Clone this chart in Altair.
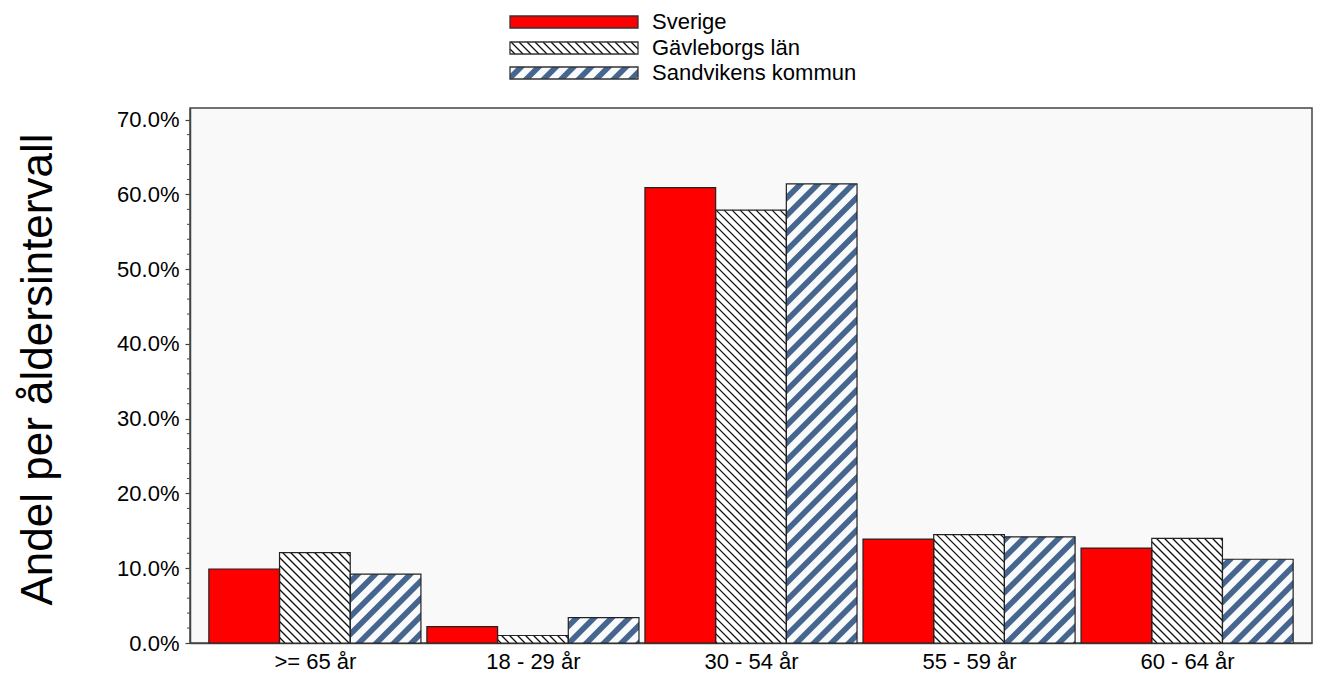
import json
import math
import altair as alt
import pandas as pd

# ---------------- data ----------------
CATEGORIES = [">= 65 år", "18 - 29 år", "30 - 54 år", "55 - 59 år", "60 - 64 år"]
SERIES = ["Sverige", "Gävleborgs län", "Sandvikens kommun"]
SVERIGE = [9.9, 2.2, 60.9, 13.9, 12.7]
GAVLEBORG = [12.1, 1.0, 57.9, 14.5, 14.0]
SANDVIKEN = [9.2, 3.4, 61.4, 14.2, 11.2]
Y_TICKS = [0, 10, 20, 30, 40, 50, 60, 70]
Y_MINOR = [v for v in range(2, 71, 2) if v % 10 != 0]
Y_TITLE = "Andel per åldersintervall"

VALUES = [SVERIGE, GAVLEBORG, SANDVIKEN]

# ---------------- layout / style ----------------
FONT = "Liberation Sans"
PLOT_W = 1122
PLOT_H = 535
Y_MAX = 0.7156
BAR_W = 0.3242            # bar width in units of group pitch
X_MIN = -0.0864
X_MAX = 5.0591
AXIS_COL = "#444444"
FILLS = ["#ff0000", "#ffffff", "#f9fafc"]
HATCH_COL = "#111111"
STRIPE_COL = "#46668f"
HATCH_PERIOD = 8.0
STRIPE_PERIOD = 17.5
STRIPE_W = 8.0

SX = PLOT_W / (X_MAX - X_MIN)


def to_px(xd):
    return (xd - X_MIN) * SX


def to_xd(px):
    return X_MIN + px / SX


def to_py(yd):
    return PLOT_H - yd / Y_MAX * PLOT_H


def to_yd(py):
    return (PLOT_H - py) / PLOT_H * Y_MAX


def hatch_lines(X0, X1, Yt, Yb, period):
    """'\\' direction lines y = x + c clipped to rect (screen px)."""
    out = []
    kmin = math.floor((Yt - X1) / period) - 1
    kmax = math.ceil((Yb - X0) / period) + 1
    for k in range(kmin, kmax + 1):
        c = k * period
        xa = max(X0, Yt - c)
        xb = min(X1, Yb - c)
        if xb - xa > 0.3:
            out.append((xa, xa + c, xb, xb + c))
    return out


def stripes(X0, X1, Yt, Yb, period, w):
    """'/' direction bands c <= x + y <= c + w clipped to rect (screen px)."""
    polys = []
    kmin = math.floor((X0 + Yt - w) / period) - 1
    kmax = math.ceil((X1 + Yb) / period) + 1
    for k in range(kmin, kmax + 1):
        c = k * period
        xa = max(X0, c - Yb)
        xb = min(X1, c + w - Yt)
        if xb - xa <= 0.3:
            continue
        xs = {xa, xb}
        for b in (c - Yt, c - Yb, c + w - Yt, c + w - Yb):
            if xa < b < xb:
                xs.add(b)
        pts = []
        for x in sorted(xs):
            lo = min(max(c - x, Yt), Yb)
            hi = min(max(c + w - x, Yt), Yb)
            pts.append((x, lo, hi))
        polys.append(pts)
    return polys


# ---------------- main chart data ----------------
bar_rows = []
line_rows = []
stripe_rows = []
sid = 0
for g, cat in enumerate(CATEGORIES):
    for k, ser in enumerate(SERIES):
        x0 = g + k * BAR_W
        x1 = x0 + BAR_W
        v = VALUES[k][g] / 100.0
        bar_rows.append({"cat": cat, "series": ser, "x0": x0, "x1": x1, "v": v})
        X0, X1 = to_px(x0), to_px(x1)
        Yt, Yb = to_py(v), PLOT_H
        if k == 1:
            for (ax, ay, bx, by) in hatch_lines(X0, X1, Yt, Yb, HATCH_PERIOD):
                line_rows.append({"x": to_xd(ax), "y": to_yd(ay),
                                  "x2": to_xd(bx), "y2": to_yd(by)})
        if k == 2:
            for pts in stripes(X0, X1, Yt, Yb, STRIPE_PERIOD, STRIPE_W):
                for (px, lo, hi) in pts:
                    stripe_rows.append({"sid": sid, "x": to_xd(px),
                                        "ylo": to_yd(lo), "yhi": to_yd(hi)})
                sid += 1

bars_df = pd.DataFrame(bar_rows)
lines_df = pd.DataFrame(line_rows)
stripes_df = pd.DataFrame(stripe_rows)
minor_df = pd.DataFrame({"t": [m / 100.0 for m in Y_MINOR]})

CENTER_OFF = 1.5 * BAR_W
x_scale = alt.Scale(domain=[X_MIN, X_MAX], nice=False, zero=False)
y_scale = alt.Scale(domain=[0, Y_MAX], nice=False, zero=True)
label_expr = f"{json.dumps(CATEGORIES, ensure_ascii=False)}[round(datum.value - {CENTER_OFF})]"
x_axis = alt.Axis(values=[g + CENTER_OFF for g in range(len(CATEGORIES))],
                  labelExpr=label_expr, ticks=False, grid=False, title=None,
                  domainColor=AXIS_COL, domainWidth=1.5, labelFontSize=22,
                  labelFont=FONT, labelColor="black", labelPadding=8,
                  labelBaseline="top")
y_axis = alt.Axis(values=[t / 100.0 for t in Y_TICKS], format=".1%", grid=False,
                  tickSize=5, tickColor=AXIS_COL, tickWidth=1.2,
                  domainColor=AXIS_COL, domainWidth=1.5,
                  labelFontSize=22, labelFont=FONT, labelColor="black", labelPadding=6,
                  title=Y_TITLE, titleFontSize=44, titleFont=FONT,
                  titleFontWeight="normal", titleColor="black", titlePadding=56,
                  titleY=261)


def X(field):
    return alt.X(field, type="quantitative", scale=x_scale, axis=x_axis)


def Y(field):
    return alt.Y(field, type="quantitative", scale=y_scale, axis=y_axis)


fill_enc = alt.Color("series:N", scale=alt.Scale(domain=SERIES, range=FILLS), legend=None)

bars_fill = alt.Chart(bars_df).mark_rect(strokeWidth=0).encode(
    x=X("x0"), x2="x1", y=Y("v"), y2=alt.datum(0), color=fill_enc
)
hatch = alt.Chart(lines_df).mark_rule(color=HATCH_COL, strokeWidth=1.3).encode(
    x=X("x"), y=Y("y"), x2="x2", y2="y2"
)
stripe_layer = alt.Chart(stripes_df).mark_area(color=STRIPE_COL, opacity=1).encode(
    x=X("x"), y=Y("ylo"), y2="yhi", detail="sid:N"
)
bars_outline = alt.Chart(bars_df).mark_rect(fillOpacity=0, stroke="#222222", strokeWidth=1.2).encode(
    x=X("x0"), x2="x1", y=Y("v"), y2=alt.datum(0)
)
minor_ticks = alt.Chart(minor_df).mark_rule(color=AXIS_COL, strokeWidth=1).encode(
    y=Y("t"), x=alt.value(-3), x2=alt.value(0)
)

main = alt.layer(bars_fill, hatch, stripe_layer, bars_outline, minor_ticks).properties(
    width=PLOT_W, height=PLOT_H,
    view=alt.ViewBackground(fill="#f9f9f9", stroke=AXIS_COL, strokeWidth=1.5)
)

# ---------------- legend chart ----------------
LW = PLOT_W
LH = 80
SW_X0, SW_X1 = 320, 448
SW_Y = [(7, 19), (33, 45), (58, 70)]
TXT_X = 462

leg_rows = []
leg_lines = []
leg_stripes = []
lsid = 0
for k, ser in enumerate(SERIES):
    yt, yb = SW_Y[k]
    leg_rows.append({"series": ser, "x0": SW_X0, "x1": SW_X1, "yt": yt, "yb": yb,
                     "tx": TXT_X, "ty": yb + 0.5})
    if k == 1:
        for (ax, ay, bx, by) in hatch_lines(SW_X0, SW_X1, yt, yb, HATCH_PERIOD):
            leg_lines.append({"x": ax, "y": ay, "x2": bx, "y2": by})
    if k == 2:
        for pts in stripes(SW_X0, SW_X1, yt, yb, STRIPE_PERIOD, STRIPE_W):
            for (px, lo, hi) in pts:
                leg_stripes.append({"sid": lsid, "x": px, "ylo": lo, "yhi": hi})
            lsid += 1

leg_df = pd.DataFrame(leg_rows)
leg_lines_df = pd.DataFrame(leg_lines)
leg_stripes_df = pd.DataFrame(leg_stripes)

lx_scale = alt.Scale(domain=[0, LW], nice=False, zero=False)
ly_scale = alt.Scale(domain=[0, LH], nice=False, zero=False, reverse=True)


def LX(field):
    return alt.X(field, type="quantitative", scale=lx_scale, axis=None)


def LY(field):
    return alt.Y(field, type="quantitative", scale=ly_scale, axis=None)


leg_fill = alt.Chart(leg_df).mark_rect(strokeWidth=0).encode(
    x=LX("x0"), x2="x1", y=LY("yt"), y2="yb", color=fill_enc
)
leg_hatch = alt.Chart(leg_lines_df).mark_rule(color=HATCH_COL, strokeWidth=1.3).encode(
    x=LX("x"), y=LY("y"), x2="x2", y2="y2"
)
leg_stripe = alt.Chart(leg_stripes_df).mark_area(color=STRIPE_COL, opacity=1).encode(
    x=LX("x"), y=LY("ylo"), y2="yhi", detail="sid:N"
)
leg_outline = alt.Chart(leg_df).mark_rect(fillOpacity=0, stroke="#333333", strokeWidth=1.3).encode(
    x=LX("x0"), x2="x1", y=LY("yt"), y2="yb"
)
leg_text = alt.Chart(leg_df).mark_text(
    align="left", baseline="alphabetic", fontSize=22, font=FONT, color="black"
).encode(x=LX("tx"), y=LY("ty"), text="series:N")

legend = alt.layer(leg_fill, leg_hatch, leg_stripe, leg_outline, leg_text).properties(
    width=LW, height=LH,
    view=alt.ViewBackground(fill="transparent", stroke="transparent")
)

chart = alt.vconcat(legend, main, spacing=17).properties(
    padding={"left": 7, "top": 0, "right": 0, "bottom": 4},
    background="white",
).configure(font=FONT)

chart.save("out.html", embed_options={"renderer": "svg", "actions": False})
